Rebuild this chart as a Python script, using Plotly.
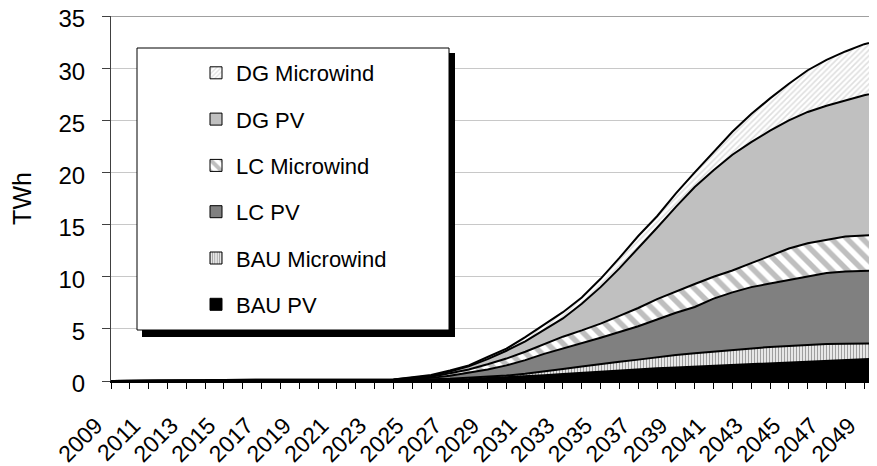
import plotly.graph_objects as go

years = list(range(2009, 2051))

bau_pv = [0, 0, 0, 0, 0, 0.02, 0.05, 0.06, 0.06, 0.06, 0.06, 0.06, 0.06, 0.06, 0.07, 0.08,
          0.10, 0.12, 0.15, 0.20, 0.28, 0.36, 0.45, 0.55, 0.68, 0.80, 0.92, 1.02, 1.12, 1.22,
          1.30, 1.38, 1.46, 1.54, 1.62, 1.70, 1.77, 1.85, 1.95, 2.05, 2.12, 2.18]
bau_micro = [0, 0, 0, 0, 0, 0.01, 0.01, 0.01, 0.01, 0.01, 0.01, 0.01, 0.01, 0.01, 0.01, 0.01,
             0.02, 0.04, 0.07, 0.10, 0.12, 0.16, 0.25, 0.35, 0.47, 0.60, 0.73, 0.83, 0.93, 1.08,
             1.20, 1.27, 1.35, 1.43, 1.50, 1.57, 1.58, 1.63, 1.60, 1.52, 1.46, 1.42]
lc_pv = [0, 0, 0, 0, 0, 0.01, 0.01, 0.01, 0.01, 0.01, 0.01, 0.01, 0.01, 0.01, 0.01, 0.01,
         0.08, 0.14, 0.28, 0.50, 0.70, 0.98, 1.30, 1.70, 1.95, 2.20, 2.50, 2.85, 3.20, 3.60,
         4.05, 4.45, 5.09, 5.53, 5.88, 6.08, 6.35, 6.52, 6.80, 6.93, 6.97, 7.00]
lc_micro = [0, 0, 0, 0, 0, 0, 0, 0, 0, 0, 0, 0, 0, 0, 0, 0,
            0.05, 0.10, 0.25, 0.30, 0.50, 0.65, 0.80, 0.95, 1.15, 1.25, 1.35, 1.55, 1.75, 1.95,
            2.05, 2.20, 2.10, 2.10, 2.30, 2.65, 3.00, 3.20, 3.20, 3.35, 3.40, 3.45]
dg_pv = [0, 0, 0, 0, 0, 0, 0.03, 0.05, 0.05, 0.04, 0.03, 0.03, 0.03, 0.03, 0.04, 0.05,
         0.07, 0.10, 0.15, 0.30, 0.50, 0.75, 1.00, 1.35, 1.75, 2.55, 3.50, 4.55, 5.70, 6.85,
         8.10, 9.30, 10.20, 11.10, 11.60, 12.00, 12.30, 12.60, 12.85, 13.05, 13.45, 13.70]
dg_micro = [0, 0, 0, 0, 0, 0, 0, 0, 0, 0, 0, 0, 0, 0, 0, 0,
            0.03, 0.07, 0.10, 0.10, 0.20, 0.20, 0.40, 0.50, 0.60, 0.60, 0.80, 1.00, 1.20, 1.10,
            1.30, 1.40, 1.80, 2.20, 2.70, 3.10, 3.50, 4.00, 4.40, 4.70, 4.90, 4.95]

series_names = ["BAU PV", "BAU Microwind", "LC PV", "LC Microwind", "DG PV", "DG Microwind"]
series_values = [bau_pv, bau_micro, lc_pv, lc_micro, dg_pv, dg_micro]

year_ticks = list(range(2009, 2051, 2))

FONT = "Liberation Sans, Arial, sans-serif"

styles = {
    "BAU PV": dict(color="#000000", pattern=None),
    "BAU Microwind": dict(color="#ffffff", pattern=dict(shape="|", fgcolor="#404040", bgcolor="#ffffff", size=3, solidity=0.5)),
    "LC PV": dict(color="#808080", pattern=None),
    "LC Microwind": dict(color="#ffffff", pattern=dict(shape="\\", fgcolor="#808080", bgcolor="#ffffff", size=11, solidity=0.5)),
    "DG PV": dict(color="#c0c0c0", pattern=None),
    "DG Microwind": dict(color="#ffffff", pattern=dict(shape="/", fgcolor="#c0c0c0", bgcolor="#ffffff", size=4, solidity=0.4)),
}

fig = go.Figure()

for name, vals in zip(series_names, series_values):
    st = styles[name]
    kw = dict(x=years, y=vals, name=name, mode="lines", stackgroup="one",
              line=dict(color="black", width=2), fillcolor=st["color"],
              showlegend=False, hoverinfo="x+y+name")
    if st["pattern"] is not None:
        kw["fillpattern"] = st["pattern"]
    fig.add_trace(go.Scatter(**kw))

# legend entries (display order top to bottom)
for name in reversed(series_names):
    st = styles[name]
    marker = dict(color=st["color"], line=dict(color="black", width=1))
    if st["pattern"] is not None:
        marker["pattern"] = dict(st["pattern"])
    fig.add_trace(go.Bar(x=[None], y=[None], name=name, marker=marker,
                         legendgroup=name, showlegend=True))

# page has an 8px body margin: figure is sized/placed to compensate
OFF = 8
W, H = 877 - OFF, 466 - OFF
L, R, T, B = 111 - OFF, 0, 16 - OFF, 85
PW, PH = W - L - R, H - T - B

def px(xp):
    return (xp - OFF - L) / PW

def py(yp):
    return (H - B - (yp - OFF)) / PH

shapes = [
    dict(type="line", xref="paper", yref="y", x0=0, x1=1, y0=35, y1=35,
         line=dict(color="#808080", width=1.5), layer="below"),
    dict(type="rect", xref="paper", yref="paper", x0=px(142), x1=px(455), y0=py(337), y1=py(53),
         fillcolor="black", line=dict(width=0), layer="above"),
    dict(type="rect", xref="paper", yref="paper", x0=px(137), x1=px(449), y0=py(330), y1=py(48),
         fillcolor="white", line=dict(color="black", width=1), layer="above"),
]

fig.update_layout(
    width=W, height=H,
    margin=dict(l=L, r=R, t=T, b=B, autoexpand=False),
    paper_bgcolor="white", plot_bgcolor="white",
    font=dict(family=FONT, color="black"),
    showlegend=True,
    legend=dict(x=px(196), xanchor="left", y=py(52), yanchor="top",
                bgcolor="rgba(0,0,0,0)", borderwidth=0,
                font=dict(family=FONT, size=22, color="black"),
                traceorder="grouped", tracegroupgap=14.7),
    shapes=shapes,
    xaxis=dict(type="linear", range=[2009, 2009 + PW / 18.83], automargin=False,
               tickmode="array", tickvals=year_ticks, ticktext=[str(y) for y in year_ticks],
               tickangle=-45, tickfont=dict(size=23, family=FONT),
               ticklabelstandoff=14, ticklabelshift=-15, ticklabeloverflow="allow",
               ticks="outside", ticklen=6, tickcolor="black", tickwidth=1,
               minor=dict(dtick=1, tick0=2009, ticks="outside", ticklen=6, tickcolor="black", tickwidth=1, showgrid=False),
               showline=True, linecolor="black", linewidth=2,
               showgrid=False, zeroline=False),
    yaxis=dict(range=[0, 35], dtick=5, tick0=0, automargin=False,
               tickfont=dict(size=24, family=FONT),
               ticks="outside", ticklen=8, tickcolor="#404040", tickwidth=1,
               ticklabelstandoff=12, ticklabelshift=3, ticklabeloverflow="allow",
               showline=True, linecolor="#404040", linewidth=1,
               showgrid=True, gridcolor="#c8c8c8", gridwidth=1,
               zeroline=False,
               title=dict(text="TWh", font=dict(size=25, family=FONT), standoff=25)),
)

fig.write_html("out.html")
